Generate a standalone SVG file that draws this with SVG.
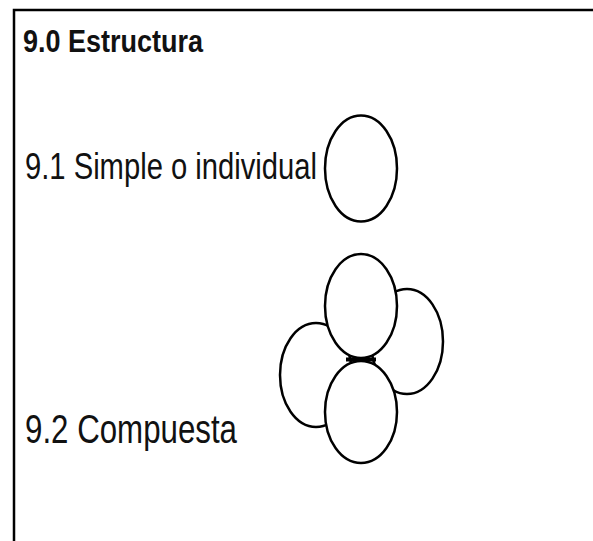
<svg xmlns="http://www.w3.org/2000/svg" width="593" height="541" viewBox="0 0 593 541">
<style>
.t{font-family:"Liberation Sans",Arial,sans-serif;fill:#111}
.c{fill:#fff;stroke:#000;stroke-width:2.5}
</style>
<rect width="593" height="541" fill="#fff"/>
<path d="M14 541V10H593" fill="none" stroke="#000" stroke-width="2.5"/>
<g id="title"><text class="t" x="23" y="52" font-size="32" font-weight="bold" textLength="180" lengthAdjust="spacingAndGlyphs">9.0 Estructura</text></g>
<g id="simple">
<text class="t" x="25" y="179" font-size="36" textLength="292" lengthAdjust="spacingAndGlyphs">9.1 Simple o individual</text>
<ellipse class="c" cx="361" cy="168.5" rx="36" ry="53"/>
</g>
<g id="compuesta">
<text class="t" x="25" y="443" font-size="40" textLength="212" lengthAdjust="spacingAndGlyphs">9.2 Compuesta</text>
<ellipse class="c" cx="316" cy="375" rx="36" ry="52"/>
<ellipse class="c" cx="407" cy="341.5" rx="36" ry="52.5"/>
<ellipse class="c" cx="361" cy="306" rx="36" ry="52"/>
<ellipse class="c" cx="361" cy="412" rx="36" ry="51"/>
<path d="M346 359.5H376" stroke="#000" stroke-width="4"/>
</g>
</svg>
